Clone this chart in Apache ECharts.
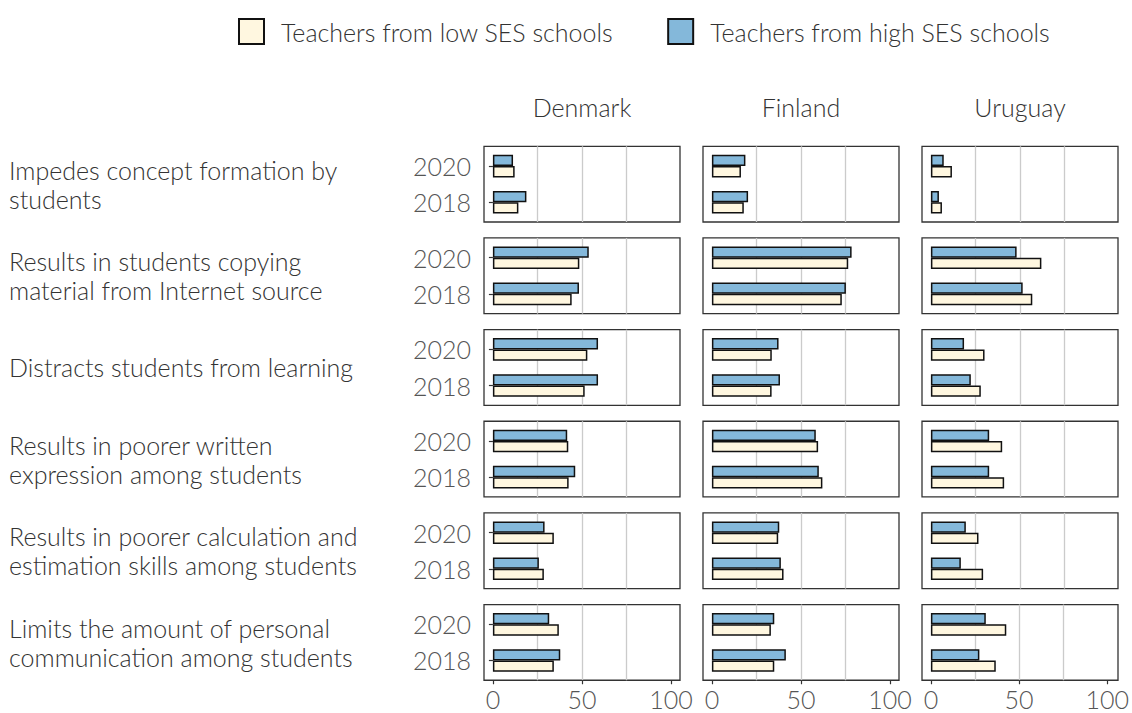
<!DOCTYPE html>
<html>
<head>
<meta charset="utf-8">
<script src="https://cdn.jsdelivr.net/npm/echarts@6/dist/echarts.min.js"></script>
<style>
  html, body { margin: 0; padding: 0; background: #fff; }
  #chart { width: 1132px; height: 713px; }
</style>
</head>
<body>
<div id="chart"></div>
<script>
// categories
const statements = [
    'Impedes concept formation by\nstudents',
    'Results in students copying\nmaterial from Internet source',
    'Distracts students from learning',
    'Results in poorer written\nexpression among students',
    'Results in poorer calculation and\nestimation skills among students',
    'Limits the amount of personal\ncommunication among students'
];
const countries = ['Denmark', 'Finland', 'Uruguay'];
const years = ['2018', '2020'];
const xTicks = [0, 50, 100];

// % of teachers agreeing, one value per statement
const denmarkHigh2020 = [11.3, 53.8, 59.0, 41.7, 29.0, 31.6];
const denmarkHigh2018 = [18.8, 48.3, 59.0, 46.2, 25.8, 37.8];
const denmarkLow2020  = [12.2, 48.5, 53.0, 42.3, 34.2, 37.0];
const denmarkLow2018  = [14.3, 44.2, 51.5, 42.5, 28.6, 34.2];

const finlandHigh2020 = [18.8, 78.4, 37.4, 58.3, 37.8, 35.0];
const finlandHigh2018 = [20.3, 75.2, 38.2, 60.0, 38.7, 41.5];
const finlandLow2020  = [16.3, 76.5, 33.6, 59.6, 37.2, 33.1];
const finlandLow2018  = [17.9, 72.9, 33.5, 62.0, 40.2, 35.0];

const uruguayHigh2020 = [7.2, 48.1, 18.6, 32.7, 19.6, 30.8];
const uruguayHigh2018 = [4.5, 51.5, 22.4, 32.7, 16.8, 27.2];
const uruguayLow2020  = [11.8, 62.0, 30.1, 40.0, 26.7, 42.3];
const uruguayLow2018  = [6.2, 56.9, 28.0, 41.1, 29.3, 36.4];

const highName = 'Teachers from high SES schools';
const lowName = 'Teachers from low SES schools';

// [country] -> [2018 array, 2020 array]
const highByCountry = [
    [denmarkHigh2018, denmarkHigh2020],
    [finlandHigh2018, finlandHigh2020],
    [uruguayHigh2018, uruguayHigh2020]
];
const lowByCountry = [
    [denmarkLow2018, denmarkLow2020],
    [finlandLow2018, finlandLow2020],
    [uruguayLow2018, uruguayLow2020]
];

// layout of the facet grid
const colLeft = [484, 703, 922];
const panelW = 196;
const rowTop0 = 146.3;
const rowStep = 91.65;
const panelH = 75.7;
const inset = panelH * 0.6 / 2.2 - panelH / 4; // ggplot-like discrete expansion
const font = 'Lato, "Open Sans", sans-serif';
const fs = 25;

const blue = '#84b8da';
const cream = '#fff7e0';

const grids = [], xAxes = [], yAxes = [], series = [], titles = [];

statements.forEach((st, r) => {
    const top = rowTop0 + r * rowStep;
    const lines = st.split('\n').length;
    titles.push({
        text: st, left: 9, top: top + panelH / 2 - lines * 14.5, padding: 0,
        textStyle: { fontFamily: font, fontWeight: 300, fontSize: fs, color: '#333', lineHeight: 29 }
    });

    countries.forEach((country, c) => {
        const left = colLeft[c];
        const lineLeft = left + panelW * 5 / 110;
        const lineW = panelW * 100 / 110;
        const isBottom = r === statements.length - 1;

        // panel border (+ strip title on top row)
        grids.push({ left: left, top: top, width: panelW, height: panelH, show: true,
            borderColor: '#333', borderWidth: 1.3, backgroundColor: 'transparent' });
        xAxes.push({ gridIndex: grids.length - 1, type: 'value', min: 0, max: 1, position: 'top',
            show: r === 0, name: country, nameLocation: 'middle', nameGap: 27,
            nameTextStyle: { fontFamily: font, fontWeight: 300, fontSize: fs, color: '#333' },
            axisLine: { show: false }, axisTick: { show: false }, axisLabel: { show: false }, splitLine: { show: false } });
        yAxes.push({ gridIndex: grids.length - 1, type: 'value', show: false, min: 0, max: 1 });

        // gridlines and bottom tick labels
        grids.push({ left: lineLeft, top: top, width: lineW, height: panelH });
        xAxes.push({ gridIndex: grids.length - 1, type: 'value', min: 0, max: 100, interval: 50,
            axisLine: { show: false },
            axisTick: { show: isBottom, length: 4, lineStyle: { color: '#333', width: 1.2 } },
            axisLabel: { show: isBottom, margin: 6, fontFamily: font, fontWeight: 300, fontSize: fs, color: '#555',
                customValues: xTicks },
            splitLine: { show: true, showMinLine: false, showMaxLine: false, lineStyle: { color: '#cbcbcb', width: 1.3 } },
            minorTick: { show: false, splitNumber: 2 },
            minorSplitLine: { show: true, lineStyle: { color: '#cbcbcb', width: 1.3 } } });
        yAxes.push({ gridIndex: grids.length - 1, type: 'value', show: false, min: 0, max: 1 });

        // bars
        grids.push({ left: left, top: top + inset, width: panelW, height: panelH - 2 * inset });
        const di = grids.length - 1;
        xAxes.push({ gridIndex: di, type: 'value', min: -5, max: 105, show: false });
        yAxes.push({ gridIndex: di, type: 'category', data: years,
            axisLine: { show: false },
            axisTick: { show: c === 0, alignWithLabel: true, length: 4, lineStyle: { color: '#333', width: 1.2 } },
            axisLabel: { show: c === 0, margin: 13, fontFamily: font, fontWeight: 300, fontSize: fs, color: '#555' },
            splitLine: { show: false } });

        series.push({
            type: 'bar', name: highName, xAxisIndex: di, yAxisIndex: di,
            data: [highByCountry[c][0][r], highByCountry[c][1][r]],
            barWidth: 11.3, barGap: '0%',
            itemStyle: { color: blue, borderColor: '#111', borderWidth: 1.5 }
        });
        series.push({
            type: 'bar', name: lowName, xAxisIndex: di, yAxisIndex: di,
            data: [lowByCountry[c][0][r], lowByCountry[c][1][r]],
            barWidth: 11.3, barGap: '0%',
            itemStyle: { color: cream, borderColor: '#111', borderWidth: 1.5 }
        });
    });
});

const chart = echarts.init(document.getElementById('chart'), null, { renderer: 'svg' });
chart.setOption({
    animation: false,
    title: titles,
    legend: {
        data: [lowName, highName], left: 238, top: 18, padding: 0, icon: 'rect',
        itemWidth: 25, itemHeight: 25, itemGap: 54, selectedMode: false,
        textStyle: { fontFamily: font, fontWeight: 300, fontSize: fs, color: '#333', padding: [0, 0, 0, 12] }
    },
    grid: grids,
    xAxis: xAxes,
    yAxis: yAxes,
    series: series
});
</script>
</body>
</html>
